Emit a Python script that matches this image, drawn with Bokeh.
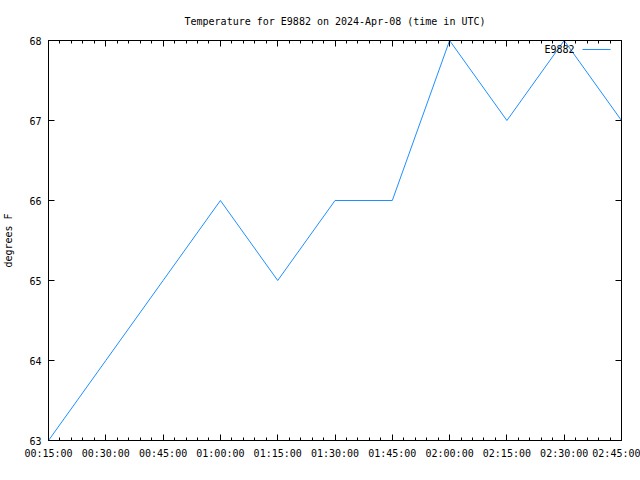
from bokeh.plotting import figure
from bokeh.models import (Range1d, FixedTicker, LinearAxis, Label, Arrow, ColumnDataSource,
                          CustomJSTickFormatter)
from bokeh.embed import file_html
from bokeh.resources import INLINE

# data
times = ["00:15:00", "00:30:00", "00:45:00", "01:00:00", "01:15:00", "01:30:00",
         "01:45:00", "02:00:00", "02:15:00", "02:30:00", "02:45:00"]
temps = [63, 64, 65, 66, 65, 66, 66, 68, 67, 68, 67]
y_ticks = [63, 64, 65, 66, 67, 68]
series_name = "E9882"

def to_min(t):
    h, m, s = t.split(":")
    return int(h) * 60 + int(m) + int(s) / 60

minutes = [to_min(t) for t in times]
FONT = "DejaVu Sans Mono"
COLOR = "#1f8fff"

p = figure(width=640, height=480, output_backend="svg", toolbar_location=None,
           x_range=Range1d(minutes[0], minutes[-1]), y_range=Range1d(63, 68),
           min_border_left=47, min_border_right=19, min_border_top=40, min_border_bottom=40,
           x_axis_location=None, y_axis_location=None)
p.title.text = "Temperature for E9882 on 2024-Apr-08 (time in UTC)"
p.title.text_font = FONT
p.title.text_font_size = "10px"
p.title.text_font_style = "normal"
p.title.align = "center"
p.title.text_color = "black"
p.title.standoff = 27

p.xgrid.visible = False
p.ygrid.visible = False
p.outline_line_color = "black"
p.outline_line_width = 1
p.background_fill_color = "white"
p.border_fill_color = "white"

minor = [m for m in range(int(minutes[0]), int(minutes[-1]) + 1, 3)]
xt = FixedTicker(ticks=minutes, minor_ticks=minor)
yt = FixedTicker(ticks=y_ticks, minor_ticks=[])
overrides = {m: t for m, t in zip(minutes, times)}

def style(ax, labels=True):
    ax.major_tick_in = 6
    ax.major_tick_out = 0
    ax.minor_tick_in = 3
    ax.minor_tick_out = 0
    ax.axis_line_color = "black"
    ax.major_tick_line_color = "black"
    ax.minor_tick_line_color = "black"
    ax.major_label_text_font = FONT
    ax.major_label_text_font_size = "10px"
    ax.major_label_text_color = "black"
    ax.axis_label_text_font = FONT
    ax.axis_label_text_font_size = "10px"
    ax.axis_label_text_font_style = "normal"
    ax.axis_label_text_color = "black"
    if not labels:
        ax.formatter = CustomJSTickFormatter(code="return ''")
        ax.major_label_standoff = 0

xb = LinearAxis(ticker=xt, major_label_overrides=overrides)
style(xb)
xb.major_label_standoff = 7
xtop = LinearAxis(ticker=xt)
style(xtop, labels=False)
yl = LinearAxis(ticker=yt, axis_label="degrees F")
style(yl)
yl.major_label_standoff = 7
yl.axis_label_standoff = 12
yr = LinearAxis(ticker=yt)
style(yr, labels=False)

p.add_layout(xb, "below")
p.add_layout(xtop, "above")
p.add_layout(yl, "left")
p.add_layout(yr, "right")

src = ColumnDataSource(dict(x=minutes, y=temps))
p.line("x", "y", source=src, line_color=COLOR, line_width=1)

# legend drawn manually (text then sample line), screen units relative to the frame
p.add_layout(Label(x=526, y=391, x_units="screen", y_units="screen", text=series_name,
                   text_font=FONT, text_font_size="10px", text_align="right",
                   text_baseline="middle", text_color="black"))
p.add_layout(Arrow(start=None, end=None, x_start=534, y_start=391, x_end=562, y_end=391,
                   start_units="screen", end_units="screen", line_color=COLOR, line_width=1))

open("out.html", "w").write(file_html(p, INLINE))
